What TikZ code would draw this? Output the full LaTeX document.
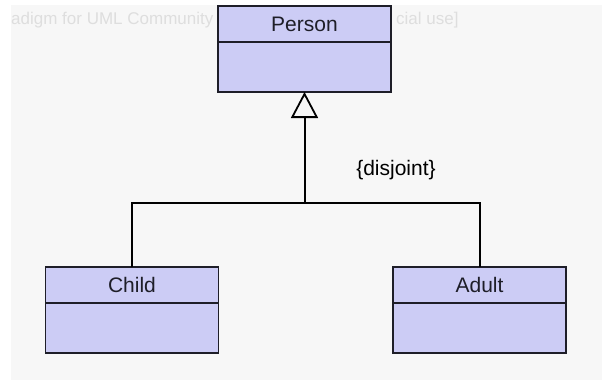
\documentclass[tikz,border=0pt]{standalone}
\usepackage{fontspec}
\setmainfont{Liberation Sans}
\usetikzlibrary{arrows.meta}
\definecolor{panel}{RGB}{247,247,247}
\definecolor{classfill}{RGB}{204,204,245}
\definecolor{classline}{RGB}{30,30,40}
\definecolor{wmark}{RGB}{222,222,222}
\tikzset{
  classhead/.style={draw=classline, fill=classfill, line width=1.8pt, outer sep=0pt, minimum width=173pt, minimum height=36pt, inner sep=0pt, text=classline, font=\fontsize{21}{25}\selectfont},
  classbody/.style={draw=classline, fill=classfill, line width=1.8pt, outer sep=0pt, minimum width=173pt, minimum height=50pt, inner sep=0pt},
  conn/.style={draw=black, line width=2pt},
  gen/.style={conn, -{Triangle[open, length=26pt, width=27pt, line width=1.8pt]}},
  lbl/.style={font=\fontsize{21}{25}\selectfont, text=black, inner sep=0pt},
  wm/.style={anchor=west, text=wmark, font=\fontsize{17}{20}\selectfont, inner sep=0pt}
}
\begin{document}
\begin{tikzpicture}[x=1pt, y=-1pt]
\useasboundingbox (0,0) rectangle (602,380);
\fill[white] (0,0) rectangle (602,380);
\fill[panel] (11,5) rectangle (602,380);
\node[wm] (wmleft) at (11,20) {adigm for UML Community};
\node[wm] (wmright) at (396,20) {cial use]};
% Person
\node[classhead] (personhead) at (304.5,24) {Person};
\node[classbody, anchor=north] (personbody) at (personhead.south) {};
% Child
\node[classhead] (childhead) at (132,285) {Child};
\node[classbody, anchor=north] (childbody) at (childhead.south) {};
% Adult
\node[classhead] (adulthead) at (479.5,285) {Adult};
\node[classbody, anchor=north] (adultbody) at (adulthead.south) {};
% connectors
\coordinate (joint) at (personbody.south |- 0,203);
\draw[conn] (childhead.north) |- (joint) -| (adulthead.north);
\draw[gen] (joint) -- (personbody.south);
\node[lbl] (disj) at (396,170) {\{disjoint\}};
\end{tikzpicture}
\end{document}
